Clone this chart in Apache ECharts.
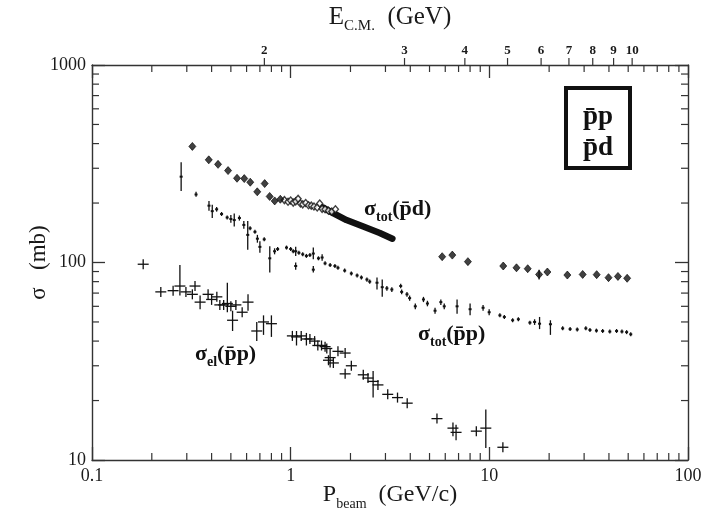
<!DOCTYPE html>
<html><head><meta charset="utf-8">
<script src="https://cdn.jsdelivr.net/npm/echarts@6/dist/echarts.min.js"></script>
<style>html,body{margin:0;padding:0;background:#fff}#c{width:720px;height:520px}</style>
</head><body><div id="c"></div>
<script>
// ---- axis ranges & tick values ----
const X_MIN = 0.1, X_MAX = 100, Y_MIN = 10, Y_MAX = 1000;
const X_MINOR = [0.2,0.3,0.4,0.5,0.6,0.7,0.8,0.9,2,3,4,5,6,7,8,9,20,30,40,50,60,70,80,90];
const Y_MINOR = [20,30,40,50,60,70,80,90,200,300,400,500,600,700,800,900];
const ECM_TICKS = [2,3,4,5,6,7,8,9,10];

// ---- sigma_tot(pbar p): p, sigma, low, high ----
const PP_P  = [0.281,0.334,0.388,0.403,0.424,0.449,0.479,0.500,0.520,0.552,0.581,0.608,0.625,0.661,0.680,0.700,0.736,0.785,0.830,0.860,0.953,1.00,1.03,1.06,1.06,1.10,1.15,1.20,1.25,1.30,1.30,1.38,1.44,1.49,1.58,1.67,1.73,1.87,2.02,2.16,2.27,2.42,2.50,2.72,2.89,3.05,3.23,3.58,3.62,3.85,3.97,4.24,4.66,4.88,5.33,5.70,5.93,6.88,8.0,9.3,9.98,11.3,11.9,13.1,14.0,16.0,16.9,17.9,20.3,23.4,25.5,27.7,30.6,32.1,34.6,37.2,40.4,43.7,46.5,49.1,51.5];
const PP_S  = [272,221,194,182,186,176,169,166,164,168,155,138,149,143,132,120,131,105,114,117,119,117,114,114,96,112,110,108,109,111,92,105,106,99,97,96,94,91,88,86,84,82,80,79,75,74,73,76,71,69,66,60,65,62,57,63,60,60,58,59,56,54,53,51,51.6,49.6,50,49,48.7,46.4,46,45.8,46.4,45.5,45.2,45,44.7,45,44.7,44.4,43.3];
const PP_LO = [230,215,183,168,181,172,165,159,152,163,148,116,146,140,126,112,128,89,110,115,117,115,112,108,92,110,108,106,107,104,89,103,102,97,95,94,92,89,86,84,82,80,78,73,67,72,71,74,69,67,64,58,63,60,55,61,58,55,54,57,54,53,52,50,50.6,48.6,48.3,46,43,46,46,45.8,46.4,45.5,45.2,45,44.7,45,44.7,44.4,43.3];
const PP_HI = [322,228,205,196,191,180,173,174,177,173,162,162,152,146,138,128,134,121,118,119,121,119,116,120,100,114,112,110,111,119,96,107,110,101,99,98,96,93,90,88,86,84,82,84,82,76,75,78,73,71,68,62,67,64,59,65,62,65,62,61,58,55,54,52,52.6,50.6,51.6,53,51,46.8,46,45.8,46.4,45.5,45.2,45,44.7,45,44.7,44.4,43.3];

// ---- sigma_tot(pbar d): sparse points ----
const PD_P  = [0.320,0.387,0.431,0.484,0.537,0.584,0.626,0.679,0.740,0.784,0.831,0.887,5.79,6.51,7.80,11.75,13.7,15.6,17.8,19.6,24.7,29.5,34.7,39.8,44.4,49.4];
const PD_S  = [387,331,314,292,267,266,255,228,251,216,205,209,107,109,101,96,94,93,87,89.5,86.4,87,86.8,83.8,85,83.2];
const PD_LO = [387,331,314,292,267,266,255,228,251,216,205,209,107,109,101,96,94,93,82,89.5,86.4,87,86.8,83.8,85,83.2];
const PD_HI = [387,331,314,292,267,266,255,228,251,216,205,209,107,109,101,96,94,93,92,89.5,86.4,87,86.8,83.8,85,83.2];
// dense low-energy pbar d points (open diamonds)
const PD_DENSE_P = [0.93,0.97,1.00,1.03,1.06,1.09,1.12,1.15,1.19,1.23,1.27,1.31,1.36,1.40,1.44,1.49,1.55,1.61,1.68];
const PD_DENSE_S = [207,203,206,201,204,210,199,197,200,195,194,192,190,199,187,186,183,181,186];
// very dense pbar d data, appearing as a thick band
const PD_BAND_P = [1.45,1.6,1.91,2.32,2.81,3.25];
const PD_BAND_S = [190,180,164,152,141,132];

// ---- sigma_el(pbar p): p, sigma, low, high ----
const EL_P  = [0.181,0.222,0.256,0.277,0.297,0.32,0.33,0.35,0.384,0.40,0.425,0.44,0.46,0.48,0.50,0.53,0.57,0.61,0.51,0.675,0.73,0.80,1.02,1.07,1.13,1.20,1.25,1.32,1.37,1.43,1.49,1.52,1.58,1.55,1.64,1.73,1.88,1.88,2.02,2.32,2.45,2.60,2.75,3.08,3.45,3.86,5.45,6.56,6.80,8.6,9.6,11.7];
const EL_S  = [98,71,72,76,71,69,76,63,69,65,67,61,61,62,60,61,56,63,51,45,50,49,42.5,42,42.5,41,41,40,38,38,37.5,36.7,33,32,31,35.5,34.8,27.3,30,27,26,25,24,21.5,20.7,19.4,16.2,14.5,13.8,14,14.5,11.6];
const EL_LO = [95,69,70,68,69,67,73,58,67,61,65,59,59,56,58,59,54,57,45,40,43,42,41,38,41,38,40,39,37,37,36.5,35.7,29.4,31,30,34.5,33.8,26.3,29,26,25,20.7,23.3,20.8,20,18.8,15.6,13.2,12.6,13.6,11.5,11.2];
const EL_HI = [101,73,74,97,73,72,80,68,71,69,69,63,63,79,62,63,58,69,57,50,54,54,44,45,44,44,42,41.5,39,39,38.5,37.7,36.7,33,32,36.5,35.8,28.3,31,28,27,28.2,24.8,22.2,21.4,20,16.8,15.5,15.1,14.4,18,12];

const M_P = 0.938272;
function pFromEcm(E){ const s = E*E; const El = (s - 2*M_P*M_P)/(2*M_P); return Math.sqrt(El*El - M_P*M_P); }

const FONT = 'Liberation Serif';
const INK = '#1a1a1a';
const lineStyle = {color:'#333', width:1.4};

function logX(pos, showLabel, name){
  return {type:'log', logBase:10, min:X_MIN, max:X_MAX, position:pos, gridIndex:0,
    axisLine:{show:true, onZero:false, lineStyle},
    axisTick:{show:true, inside:true, length:13, lineStyle:{color:'#333', width:1.3}},
    axisLabel:{show:showLabel, showMinLabel:true, showMaxLabel:true, margin:7, fontFamily:FONT, fontSize:18, color:INK,
      formatter: v => String(+(+v).toPrecision(3))},
    splitLine:{show:false}, minorTick:{show:false}, ...(name||{})};
}
function logY(pos, showLabel, name){
  return {type:'log', logBase:10, min:Y_MIN, max:Y_MAX, position:pos, gridIndex:0,
    axisLine:{show:true, onZero:false, lineStyle},
    axisTick:{show:true, inside:true, length:13, lineStyle:{color:'#333', width:1.3}},
    axisLabel:{show:showLabel, showMinLabel:true, showMaxLabel:true, margin:6, fontFamily:FONT, fontSize:18, color:INK,
      formatter: v => String(+(+v).toPrecision(4))},
    splitLine:{show:false}, minorTick:{show:false}, ...(name||{})};
}

const bigRich = (sz) => ({
  a:{fontFamily:FONT, fontSize:sz, color:INK, padding:[0,0,4,0], verticalAlign:'bottom'},
  b:{fontFamily:FONT, fontSize:Math.round(sz*0.6), color:INK, verticalAlign:'bottom'}
});
const labRich = {
  m:{fontFamily:FONT, fontWeight:'bold', fontSize:22, fill:'#111', padding:[0,0,4,0], verticalAlign:'bottom'},
  s:{fontFamily:FONT, fontWeight:'bold', fontSize:14, fill:'#111', verticalAlign:'bottom'}
};

const option = {
  animation:false,
  backgroundColor:'#fff',
  grid:{left:92, right:32, top:60, bottom:60, containLabel:false},
  xAxis:[
    logX('bottom', true, {name:'{a|P}{b|beam}{a|  (GeV/c)}', nameLocation:'middle', nameGap:23, nameMoveOverlap:false,
      nameTextStyle:{rich:bigRich(24)}}),
    logX('top', false, {name:'{a|E}{b|C.M.}{a|  (GeV)}', nameLocation:'middle', nameGap:31, nameMoveOverlap:false,
      nameTextStyle:{rich:bigRich(25)}})
  ],
  yAxis:[
    logY('left', true, {name:'{a|σ}{a|   (mb)}', nameLocation:'middle', nameGap:38, nameRotate:90, nameMoveOverlap:false,
      nameTextStyle:{rich:bigRich(23)}}),
    logY('right', false)
  ],
  graphic:[
    {type:'rect', shape:{x:566, y:88, width:64, height:80}, style:{fill:'none', stroke:'#111', lineWidth:4}, z:10},
    {type:'text', x:598, y:117, style:{text:'p\u0304p', font:'bold 27px "Liberation Serif"', fill:'#111', align:'center', verticalAlign:'middle'}, z:10},
    {type:'text', x:598, y:148, style:{text:'p\u0304d', font:'bold 27px "Liberation Serif"', fill:'#111', align:'center', verticalAlign:'middle'}, z:10},
    {type:'text', x:364, y:198, style:{text:'{m|σ}{s|tot}{m|(p\u0304d)}', rich:labRich}, z:10},
    {type:'text', x:418, y:323, style:{text:'{m|σ}{s|tot}{m|(p\u0304p)}', rich:labRich}, z:10},
    {type:'text', x:195, y:343, style:{text:'{m|σ}{s|el}{m|(p\u0304p)}', rich:labRich}, z:10}
  ],
  series:[
    // minor ticks on x (bottom & top)
    {type:'custom', clip:false, silent:true, z:5, data: X_MINOR.map(v => [v, Y_MIN]), encode:{x:0, y:1},
      renderItem:(params, api) => {
        const b = api.coord([api.value(0), Y_MIN]), t = api.coord([api.value(0), Y_MAX]);
        return {type:'group', children:[
          {type:'line', shape:{x1:b[0], y1:b[1], x2:b[0], y2:b[1]-7}, style:{stroke:'#333', lineWidth:1.2}},
          {type:'line', shape:{x1:t[0], y1:t[1], x2:t[0], y2:t[1]+7}, style:{stroke:'#333', lineWidth:1.2}}
        ]};
      }},
    // minor ticks on y (left & right)
    {type:'custom', clip:false, silent:true, z:5, data: Y_MINOR.map(v => [X_MIN, v]), encode:{x:0, y:1},
      renderItem:(params, api) => {
        const l = api.coord([X_MIN, api.value(1)]), r = api.coord([X_MAX, api.value(1)]);
        return {type:'group', children:[
          {type:'line', shape:{x1:l[0], y1:l[1], x2:l[0]+7, y2:l[1]}, style:{stroke:'#333', lineWidth:1.2}},
          {type:'line', shape:{x1:r[0], y1:r[1], x2:r[0]-7, y2:r[1]}, style:{stroke:'#333', lineWidth:1.2}}
        ]};
      }},
    // E_cm ticks and labels on top
    {type:'custom', clip:false, silent:true, z:5, data: ECM_TICKS.map(E => [pFromEcm(E), Y_MAX, E]), encode:{x:0, y:1},
      renderItem:(params, api) => {
        const t = api.coord([api.value(0), Y_MAX]);
        return {type:'group', children:[
          {type:'line', shape:{x1:t[0], y1:t[1], x2:t[0], y2:t[1]-7}, style:{stroke:'#333', lineWidth:1.2}},
          {type:'text', style:{x:t[0], y:t[1]-8, text:String(api.value(2)), font:'bold 13px "Liberation Serif"', fill:INK, align:'center', verticalAlign:'bottom'}}
        ]};
      }},
    // sigma_tot(pbar p) points with error bars
    {type:'custom', name:'pp_tot', z:3, data: PP_P.map((p,i) => [p, PP_S[i], PP_LO[i], PP_HI[i]]), encode:{x:0, y:1},
      renderItem:(params, api) => {
        const c = api.coord([api.value(0), api.value(1)]);
        const lo = api.coord([api.value(0), api.value(2)]), hi = api.coord([api.value(0), api.value(3)]);
        const y1 = Math.min(hi[1], c[1]-2), y2 = Math.max(lo[1], c[1]+2);
        return {type:'group', children:[
          {type:'line', shape:{x1:c[0], y1:y1, x2:c[0], y2:y2}, style:{stroke:'#111', lineWidth:1.3}},
          {type:'rect', shape:{x:c[0]-1.5, y:c[1]-1, width:3, height:2}, style:{fill:'#111'}}
        ]};
      }},
    // sigma_el(pbar p) crosses
    {type:'custom', name:'pp_el', z:3, data: EL_P.map((p,i) => [p, EL_S[i], EL_LO[i], EL_HI[i]]), encode:{x:0, y:1},
      renderItem:(params, api) => {
        const c = api.coord([api.value(0), api.value(1)]);
        const lo = api.coord([api.value(0), api.value(2)]), hi = api.coord([api.value(0), api.value(3)]);
        const y1 = Math.min(hi[1], c[1]-5), y2 = Math.max(lo[1], c[1]+5);
        return {type:'group', children:[
          {type:'line', shape:{x1:c[0], y1:y1, x2:c[0], y2:y2}, style:{stroke:'#111', lineWidth:1.3}},
          {type:'line', shape:{x1:c[0]-5.5, y1:c[1], x2:c[0]+5.5, y2:c[1]}, style:{stroke:'#111', lineWidth:1.3}}
        ]};
      }},
    // sigma_tot(pbar d) dense band
    {type:'line', name:'pd_band', z:3, data: PD_BAND_P.map((p,i) => [p, PD_BAND_S[i]]), showSymbol:false, symbol:'none',
      lineStyle:{color:'#111', width:6.5, cap:'round', join:'round'}},
    // dense open diamonds
    {type:'scatter', name:'pd_dense', z:4, data: PD_DENSE_P.map((p,i) => [p, PD_DENSE_S[i]]), symbol:'diamond', symbolSize:[6,7],
      itemStyle:{color:'#fff', borderColor:'#111', borderWidth:1.4}},
    // sigma_tot(pbar d) error bars
    {type:'custom', name:'pd_err', z:3, data: PD_P.map((p,i) => [p, PD_S[i], PD_LO[i], PD_HI[i]]), encode:{x:0, y:1},
      renderItem:(params, api) => {
        const lo = api.coord([api.value(0), api.value(2)]), hi = api.coord([api.value(0), api.value(3)]);
        return {type:'line', shape:{x1:lo[0], y1:hi[1], x2:lo[0], y2:lo[1]}, style:{stroke:'#111', lineWidth:1.3}};
      }},
    // sigma_tot(pbar d) diamonds
    {type:'scatter', name:'pd', z:4, data: PD_P.map((p,i) => [p, PD_S[i]]), symbol:'diamond', symbolSize:[7,8],
      itemStyle:{color:'#111', borderColor:'#000', borderWidth:0.8}}
  ]
};
const chart = echarts.init(document.getElementById('c'), null, {renderer:'canvas'});
chart.setOption(option);
</script></body></html>
